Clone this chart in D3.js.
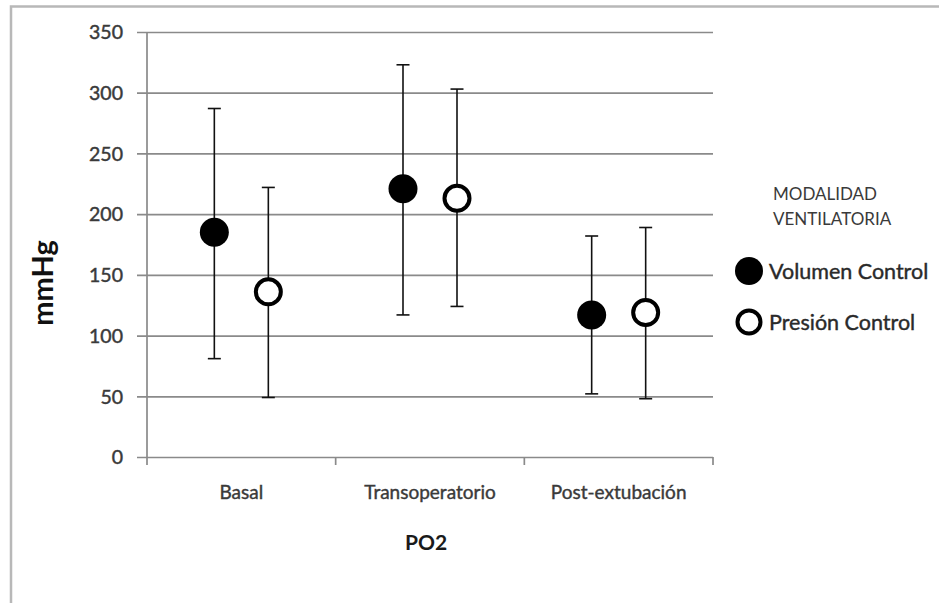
<!DOCTYPE html>
<html>
<head>
<meta charset="utf-8">
<script src="https://cdn.jsdelivr.net/npm/d3@7"></script>
<style>
  html, body { margin: 0; padding: 0; background: #fff; }
  svg { display: block; }
</style>
</head>
<body>
<svg id="chart" width="939" height="603"></svg>
<script>
// ---- data ----
const categories = ["Basal", "Transoperatorio", "Post-extubación"];
const seriesNames = ["Volumen Control", "Presión Control"];
const volumenMean = [185, 221, 117];
const volumenLow  = [81, 117, 52];
const volumenHigh = [287, 323, 182];
const presionMean = [136, 213, 119];
const presionLow  = [49, 124, 48];
const presionHigh = [222, 303, 189];
const yTicks = [0, 50, 100, 150, 200, 250, 300, 350];
const xTitle = "PO2";
const yTitle = "mmHg";
const legendTitle = ["MODALIDAD", "VENTILATORIA"];

// ---- layout ----
const svg = d3.select("#chart");
const pLeft = 147, pRight = 713, pTop = 32, pBottom = 457;
const font = "Lato, 'Open Sans', sans-serif";

// outer border
svg.append("rect")
  .attr("x", 11).attr("y", 6.5).attr("width", 960).attr("height", 640)
  .attr("fill", "none").attr("stroke", "#b8b8b8").attr("stroke-width", 2.5);

const x = d3.scaleBand().domain(categories).range([pLeft, pRight]).paddingInner(0).paddingOuter(0);
const y = d3.scaleLinear().domain([0, 350]).range([pBottom, pTop]);
const offset = d3.scalePoint().domain(seriesNames).range([-27, 27]);

// gridlines + y axis
const yAxis = d3.axisLeft(y).tickValues(yTicks).tickSize(-(pRight - pLeft + 10)).tickPadding(0).tickFormat(d3.format("d"));
const gy = svg.append("g").attr("transform", `translate(${pLeft - 10},0)`).call(yAxis);
gy.select(".domain").remove();
gy.selectAll(".tick line").attr("stroke", "#8a8a8a").attr("stroke-width", 1.7);
gy.selectAll(".tick text")
  .attr("x", -14).attr("dy", "0.35em")
  .attr("font-family", font).attr("font-size", 19.5).attr("fill", "#3a3a3a")
  .attr("stroke", "#3a3a3a").attr("stroke-width", 0.45)
  .attr("text-anchor", "end");

// y axis vertical line
svg.append("line").attr("x1", pLeft).attr("x2", pLeft).attr("y1", pTop).attr("y2", pBottom + 8)
  .attr("stroke", "#8a8a8a").attr("stroke-width", 1.7);

// x axis
const xAxis = d3.axisBottom(x).tickSize(0).tickPadding(32);
const gx = svg.append("g").attr("transform", `translate(0,${pBottom})`).call(xAxis);
gx.select(".domain").remove();
gx.selectAll(".tick text").attr("font-family", font).attr("font-size", 19).attr("fill", "#3a3a3a")
  .attr("stroke", "#3a3a3a").attr("stroke-width", 0.4).attr("dy", "0.5em");
// category boundary ticks
const bounds = categories.map(c => x(c) + x.bandwidth());
svg.append("g").selectAll("line").data(bounds).join("line")
  .attr("x1", d => d).attr("x2", d => d).attr("y1", pBottom).attr("y2", pBottom + 8)
  .attr("stroke", "#8a8a8a").attr("stroke-width", 1.7);

// titles
svg.append("text").attr("x", (pLeft + pRight) / 2 - 4).attr("y", 550)
  .attr("text-anchor", "middle").attr("font-family", font).attr("font-weight", "bold")
  .attr("font-size", 21).attr("fill", "#1a1a1a").text(xTitle);
svg.append("text").attr("transform", "translate(53,283) rotate(-90)")
  .attr("text-anchor", "middle").attr("font-family", font).attr("font-weight", "bold")
  .attr("font-size", 29).attr("fill", "#111").text(yTitle);

// series data
const series = [
  { name: seriesNames[0], mean: volumenMean, low: volumenLow, high: volumenHigh, fill: "#000" },
  { name: seriesNames[1], mean: presionMean, low: presionLow, high: presionHigh, fill: "#fff" }
];
const cap = 6.5;
series.forEach(s => {
  const pts = categories.map((c, i) => ({
    cx: x(c) + x.bandwidth() / 2 + offset(s.name),
    m: s.mean[i], lo: s.low[i], hi: s.high[i]
  }));
  const g = svg.append("g");
  g.selectAll("line.v").data(pts).join("line").attr("class", "v")
    .attr("x1", d => d.cx).attr("x2", d => d.cx).attr("y1", d => y(d.lo)).attr("y2", d => y(d.hi))
    .attr("stroke", "#111").attr("stroke-width", 1.6);
  g.selectAll("line.t").data(pts).join("line").attr("class", "t")
    .attr("x1", d => d.cx - cap).attr("x2", d => d.cx + cap).attr("y1", d => y(d.hi)).attr("y2", d => y(d.hi))
    .attr("stroke", "#111").attr("stroke-width", 1.6);
  g.selectAll("line.b").data(pts).join("line").attr("class", "b")
    .attr("x1", d => d.cx - cap).attr("x2", d => d.cx + cap).attr("y1", d => y(d.lo)).attr("y2", d => y(d.lo))
    .attr("stroke", "#111").attr("stroke-width", 1.6);
  g.selectAll("circle").data(pts).join("circle")
    .attr("cx", d => d.cx).attr("cy", d => y(d.m))
    .attr("r", s.fill === "#000" ? 14.5 : 12.5)
    .attr("fill", s.fill).attr("stroke", "#000").attr("stroke-width", s.fill === "#000" ? 0 : 4);
});

// legend
const lg = svg.append("g");
lg.selectAll("text.title").data(legendTitle).join("text").attr("class", "title")
  .attr("x", 773).attr("y", (d, i) => 200 + i * 25)
  .attr("font-family", font).attr("font-size", 17).attr("fill", "#3a3a3a").text(d => d);
const items = lg.selectAll("g.item").data(series).join("g").attr("class", "item")
  .attr("transform", (d, i) => `translate(749,${271 + i * 51})`);
items.append("circle")
  .attr("r", d => d.fill === "#000" ? 14 : 11.5)
  .attr("fill", d => d.fill).attr("stroke", "#000").attr("stroke-width", d => d.fill === "#000" ? 0 : 4);
items.append("text").attr("x", 20).attr("y", 8)
  .attr("font-family", font).attr("font-size", 21.5).attr("fill", "#2a2a2a")
  .attr("stroke", "#2a2a2a").attr("stroke-width", 0.4).text(d => d.name);
</script>
</body>
</html>
